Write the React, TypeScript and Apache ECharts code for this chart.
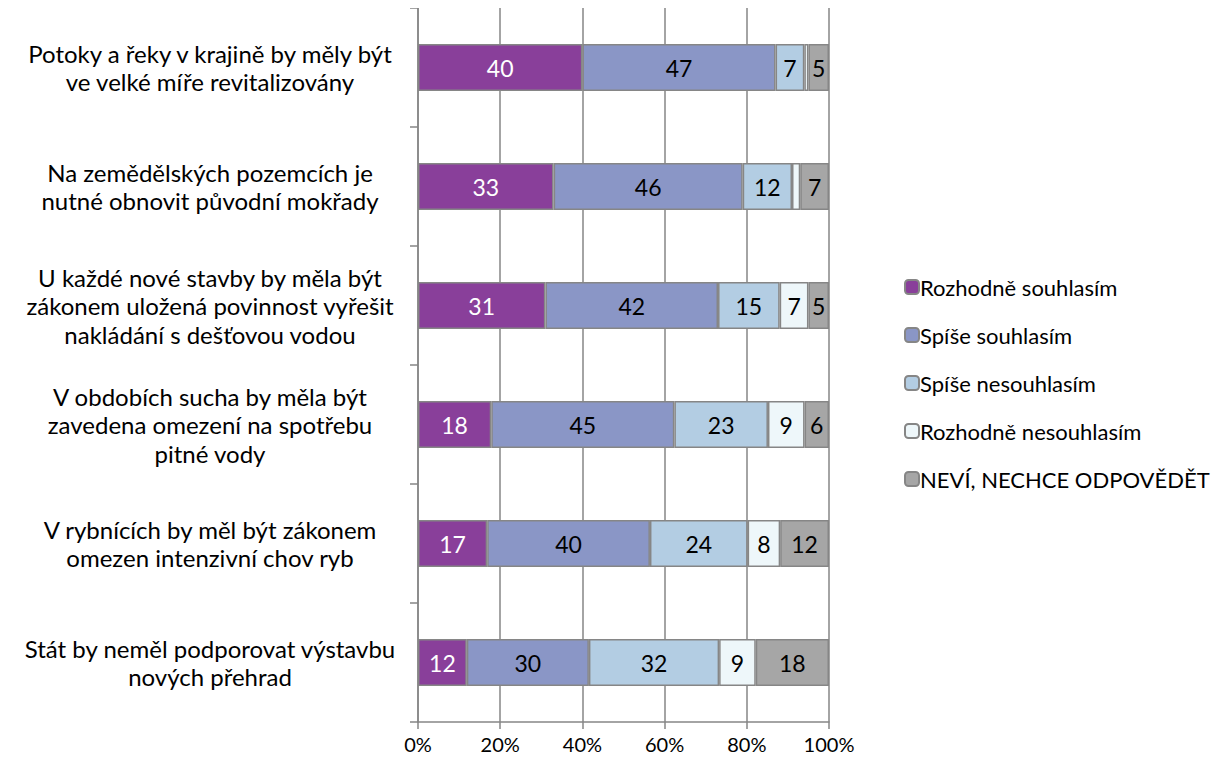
import React, { useEffect, useRef } from "react";
import * as echarts from "echarts";

const categories = [
  "Potoky a řeky v krajině by měly být\nve velké míře revitalizovány",
  "Na zemědělských pozemcích je\nnutné obnovit původní mokřady",
  "U každé nové stavby by měla být\nzákonem uložená povinnost vyřešit\nnakládání s dešťovou vodou",
  "V obdobích sucha by měla být\nzavedena omezení na spotřebu\npitné vody",
  "V rybnících by měl být zákonem\nomezen intenzivní chov ryb",
  "Stát by neměl podporovat výstavbu\nnových přehrad",
];

const seriesNames = [
  "Rozhodně souhlasím",
  "Spíše souhlasím",
  "Spíše nesouhlasím",
  "Rozhodně nesouhlasím",
  "NEVÍ, NECHCE ODPOVĚDĚT",
];

const rozhodneSouhlasim = [40, 33, 31, 18, 17, 12];
const spiseSouhlasim = [47, 46, 42, 45, 40, 30];
const spiseNesouhlasim = [7, 12, 15, 23, 24, 32];
const rozhodneNesouhlasim = [1, 2, 7, 9, 8, 9];
const nevi = [5, 7, 5, 6, 12, 18];

const xTicks = ["0%", "20%", "40%", "60%", "80%", "100%"];

const colors = ["#893f9a", "#8a96c6", "#b3cde3", "#eef7fa", "#a6a6a6"];
const labelColors = ["#ffffff", "#000000", "#000000", "#000000", "#000000"];

export default function App() {
  const ref = useRef<HTMLDivElement>(null);
  useEffect(() => {
    if (!ref.current) return;
    const chart = echarts.init(ref.current, undefined, { renderer: "svg" });
    const all = [rozhodneSouhlasim, spiseSouhlasim, spiseNesouhlasim, rozhodneNesouhlasim, nevi];
    const totals = categories.map((_, i) => all.reduce((s, arr) => s + arr[i], 0));
    const font = "Lato, 'Open Sans', sans-serif";
    chart.setOption({
      animation: false,
      textStyle: { fontFamily: font },
      grid: { left: 410, right: 389, top: 0, bottom: 36, containLabel: false },
      legend: {
        orient: "vertical",
        left: 891,
        top: 263,
        itemWidth: 14,
        itemHeight: 14,
        itemGap: 26,
        textStyle: { fontSize: 22, color: "#000", fontFamily: font, padding: [0, 0, 0, -4] },
        data: seriesNames,
      },
      xAxis: {
        type: "value",
        min: 0,
        max: 100,
        interval: 20,
        axisLine: { show: true, lineStyle: { color: "#868686", width: 1.5 } },
        axisTick: { show: true, length: 7, lineStyle: { color: "#868686", width: 1.5 } },
        splitLine: { show: true, lineStyle: { color: "#868686", width: 1.5 } },
        axisLabel: {
          fontSize: 20,
          color: "#000",
          margin: 12,
          formatter: (v: number) => xTicks[Math.round(v / 20)],
        },
      },
      yAxis: {
        type: "category",
        inverse: true,
        data: categories,
        axisLine: { show: true, lineStyle: { color: "#868686", width: 1.5 } },
        axisTick: { show: true, length: 8, lineStyle: { color: "#868686", width: 1.5 } },
        axisLabel: {
          fontSize: 24,
          color: "#000",
          align: "center",
          margin: 208,
          lineHeight: 28.5,
        },
      },
      series: all.map((arr, si) => ({
        name: seriesNames[si],
        type: "bar",
        stack: "total",
        barWidth: 47,
        data: arr.map((v, i) => (v / totals[i]) * 100),
        itemStyle: { color: colors[si], borderColor: "#868686", borderWidth: 1.5 },
        label: {
          show: true,
          position: "inside",
          fontSize: 23,
          color: labelColors[si],
          fontFamily: font,
          formatter: (p: any) => (arr[p.dataIndex] >= 3 ? String(arr[p.dataIndex]) : ""),
        },
      })),
    });
    return () => chart.dispose();
  }, []);
  return <div ref={ref} style={{ width: 1210, height: 750 }} />;
}
